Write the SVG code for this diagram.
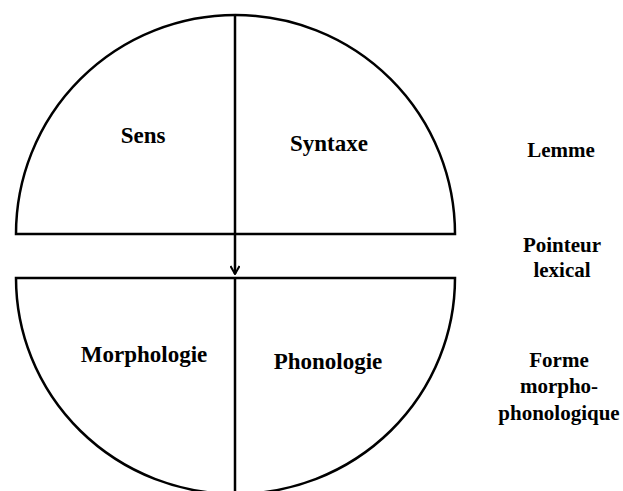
<svg xmlns="http://www.w3.org/2000/svg" width="623" height="491" viewBox="0 0 623 491">
<style>
.shape{fill:none;stroke:#000;stroke-width:2.5}
.main{font-size:23px}
.side{font-size:21px}
</style>
<defs>
<marker id="arr" viewBox="0 0 10 10" refX="9" refY="5" markerWidth="10" markerHeight="10" markerUnits="userSpaceOnUse" orient="auto">
<polyline points="1,0.5 9,5 1,9.5" fill="none" stroke="#000" stroke-width="2"/>
</marker>
</defs>
<rect width="623" height="491" fill="#fff"/>
<g id="lemme-half">
<path class="shape" d="M16,234 A219.5,219 0 0 1 455,234 Z"/>
</g>
<g id="forme-half">
<path class="shape" d="M16,278 L455,278 A219.5,216 0 0 1 16,278 Z"/>
</g>
<g id="connectors">
<line class="shape" x1="235" y1="15" x2="235" y2="234"/>
<line class="shape" x1="235" y1="234" x2="235" y2="274" marker-end="url(#arr)"/>
<line class="shape" x1="235" y1="278" x2="235" y2="491"/>
</g>
<g font-family="Liberation Serif" font-weight="bold" fill="#000" text-anchor="middle">
<g id="sens"><text class="main" x="143" y="143">Sens</text></g>
<g id="syntaxe"><text class="main" x="329" y="151">Syntaxe</text></g>
<g id="morphologie"><text class="main" x="144" y="362">Morphologie</text></g>
<g id="phonologie"><text class="main" x="328" y="369">Phonologie</text></g>
<g id="lemme"><text class="side" x="561" y="157">Lemme</text></g>
<g id="pointeur"><text class="side" x="562" y="252">Pointeur</text><text class="side" x="562" y="277">lexical</text></g>
<g id="forme"><text class="side" x="559" y="367">Forme</text><text class="side" x="559" y="393">morpho-</text><text class="side" x="559" y="420">phonologique</text></g>
</g>
</svg>
